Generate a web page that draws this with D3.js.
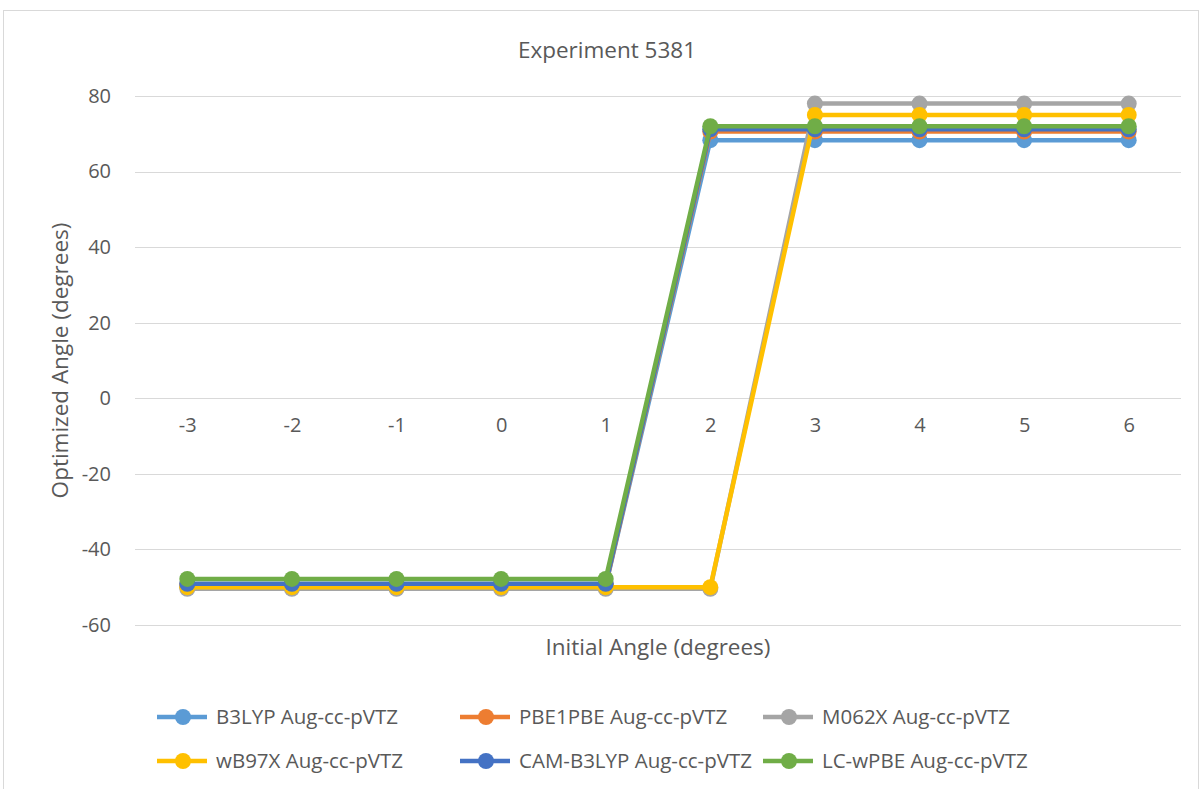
<!DOCTYPE html>
<html>
<head>
<meta charset="utf-8">
<script src="https://cdn.jsdelivr.net/npm/d3@7/dist/d3.min.js"></script>
<style>
  body { margin: 0; background: #fff; }
  text { font-family: "Open Sans", "Liberation Sans", sans-serif; fill: #595959; }
</style>
</head>
<body>
<svg id="chart" width="1201" height="789"></svg>
<script>
const categories = [-3, -2, -1, 0, 1, 2, 3, 4, 5, 6];
const yTicks = [-60, -40, -20, 0, 20, 40, 60, 80];
const seriesNames = ["B3LYP Aug-cc-pVTZ", "PBE1PBE Aug-cc-pVTZ", "M062X Aug-cc-pVTZ",
  "wB97X Aug-cc-pVTZ", "CAM-B3LYP Aug-cc-pVTZ", "LC-wPBE Aug-cc-pVTZ"];
const seriesColors = ["#5B9BD5", "#ED7D31", "#A5A5A5", "#FFC000", "#4472C4", "#70AD47"];
const b3lyp = [-49.6, -49.6, -49.6, -49.6, -49.6, 68.3, 68.3, 68.3, 68.3, 68.3];
const pbe1pbe = [-49.4, -49.4, -49.4, -49.4, -49.4, 70.6, 70.6, 70.6, 70.6, 70.6];
const m062x = [-50.4, -50.4, -50.4, -50.4, -50.4, -50.4, 78, 78, 78, 78];
const wb97x = [-50, -50, -50, -50, -50, -50, 75, 75, 75, 75];
const camb3lyp = [-49.1, -49.1, -49.1, -49.1, -49.1, 71.2, 71.2, 71.2, 71.2, 71.2];
const lcwpbe = [-47.8, -47.8, -47.8, -47.8, -47.8, 72, 72, 72, 72, 72];
const seriesValues = [b3lyp, pbe1pbe, m062x, wb97x, camb3lyp, lcwpbe];

const svg = d3.select("#chart");
const plot = { left: 135, right: 1181, top: 96, bottom: 625 };

// outer chart border
svg.append("rect")
  .attr("x", 3.5).attr("y", 10.5)
  .attr("width", 1195).attr("height", 800)
  .attr("fill", "none").attr("stroke", "#d9d9d9");

const x = d3.scalePoint().domain(categories)
  .range([plot.left, plot.right]).padding(0.5);
const y = d3.scaleLinear().domain([-60, 80])
  .range([plot.bottom, plot.top]);

// gridlines
svg.append("g").selectAll("line").data(yTicks).join("line")
  .attr("x1", plot.left).attr("x2", plot.right)
  .attr("y1", (d) => Math.round(y(d)) + 0.5).attr("y2", (d) => Math.round(y(d)) + 0.5)
  .attr("stroke", "#d9d9d9").attr("stroke-width", 1);

// y axis labels (plain hyphen for negatives, like the original)
const yAxis = d3.axisLeft(y).tickValues(yTicks).tickSize(0).tickPadding(0)
  .tickFormat((d) => String(d));
svg.append("g").attr("transform", `translate(${plot.left - 24},0)`)
  .call(yAxis)
  .call((g) => g.select(".domain").remove())
  .call((g) => g.selectAll("text").attr("font-size", 20).attr("fill", "#595959")
    .style("font-family", "'Open Sans', sans-serif"));

// category axis crosses at y=0
const xAxis = d3.axisBottom(x).tickSize(0).tickPadding(20).tickFormat((d) => String(d));
svg.append("g").attr("transform", `translate(0,${y(0)})`)
  .call(xAxis)
  .call((g) => g.select(".domain").remove())
  .call((g) => g.selectAll("text").attr("font-size", 20).attr("fill", "#595959")
    .style("font-family", "'Open Sans', sans-serif"));

// series
const line = d3.line().x((d, i) => x(categories[i])).y((d) => y(d));
seriesValues.forEach((vals, s) => {
  const g = svg.append("g");
  g.append("path").datum(vals)
    .attr("fill", "none").attr("stroke", seriesColors[s])
    .attr("stroke-width", 4.5).attr("stroke-linejoin", "round")
    .attr("d", line);
  g.selectAll("circle").data(vals).join("circle")
    .attr("cx", (d, i) => x(categories[i])).attr("cy", (d) => y(d))
    .attr("r", 8).attr("fill", seriesColors[s]);
});

// titles
svg.append("text").attr("x", 607).attr("y", 58).attr("text-anchor", "middle")
  .attr("font-size", 22.5).text("Experiment 5381");
svg.append("text").attr("x", 658).attr("y", 655).attr("text-anchor", "middle")
  .attr("font-size", 22.5).text("Initial Angle (degrees)");
svg.append("text").attr("transform", `translate(68,${(plot.top + plot.bottom) / 2}) rotate(-90)`)
  .attr("text-anchor", "middle").attr("font-size", 22.5).text("Optimized Angle (degrees)");

// legend
const legendCols = [157, 460, 763];
const legendRows = [717, 761];
seriesNames.forEach((name, i) => {
  const lx = legendCols[i % 3];
  const ly = legendRows[Math.floor(i / 3)];
  const g = svg.append("g");
  g.append("line").attr("x1", lx).attr("x2", lx + 50).attr("y1", ly).attr("y2", ly)
    .attr("stroke", seriesColors[i]).attr("stroke-width", 4.5);
  g.append("circle").attr("cx", lx + 26).attr("cy", ly).attr("r", 8)
    .attr("fill", seriesColors[i]);
  g.append("text").attr("x", lx + 59).attr("y", ly + 7).attr("font-size", 20.5).text(name);
});
</script>
</body>
</html>
